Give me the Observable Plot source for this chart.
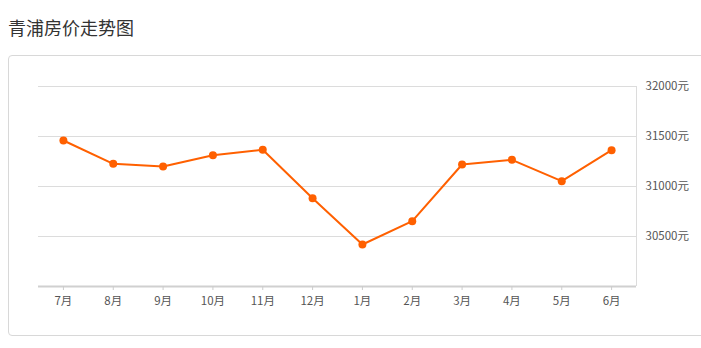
<!DOCTYPE html>
<html>
<head>
<meta charset="utf-8">
<script src="https://cdn.jsdelivr.net/npm/d3@7"></script>
<script src="https://cdn.jsdelivr.net/npm/@observablehq/plot@0.6"></script>
<style>
  html, body { margin: 0; padding: 0; background: #fff; width: 701px; height: 348px; overflow: hidden; position: relative; }
  #title { position: absolute; left: 8px; top: 14px; font: 18px "Noto Sans CJK SC", sans-serif; color: #333; line-height: 26px; }
  #card { position: absolute; left: 8px; top: 55px; width: 720px; height: 281px; border: 1px solid #d8d8d8; border-radius: 4px; box-sizing: border-box; }
  #chart { position: absolute; left: 0; top: 0; }
</style>
</head>
<body>
<div id="title">青浦房价走势图</div>
<div id="card"></div>
<div id="chart"></div>
<script>
const months = ["7月","8月","9月","10月","11月","12月","1月","2月","3月","4月","5月","6月"];
const prices = [31460, 31227, 31200, 31313, 31367, 30883, 30420, 30653, 31220, 31267, 31053, 31363];
const yTicks = [30500, 31000, 31500, 32000];

const data = months.map((m, i) => ({i, month: m, price: prices[i]}));
const color = "#ff6000";

const chart = Plot.plot({
  width: 701,
  height: 348,
  marginLeft: 38,
  marginRight: 65,
  marginTop: 86,
  marginBottom: 62,
  style: {fontFamily: "'Noto Sans CJK SC', sans-serif", fontSize: "11.5px", background: "transparent", color: "#555"},
  x: {type: "linear", domain: [-0.5, 11.5], ticks: d3.range(months.length), tickFormat: i => months[i], tickSize: 4, tickPadding: 6, label: null},
  y: {domain: [30000, 32000], ticks: yTicks, tickFormat: d => d + "元", label: null},
  marks: [
    Plot.gridY(yTicks, {stroke: "#dcdcdc", strokeOpacity: 1}),
    Plot.ruleX([11.5], {stroke: "#dcdcdc", strokeOpacity: 1}),
    Plot.ruleY([30000], {stroke: "#d0d0d0", strokeWidth: 2}),
    Plot.axisX({ticks: d3.range(months.length), tickFormat: i => months[i], tickSize: 4, tickPadding: 6, stroke: "#ccc", fill: "#555", label: null}),
    Plot.axisY({anchor: "right", ticks: yTicks, tickFormat: d => d + "元", tickSize: 0, tickPadding: 9, fill: "#555", label: null}),
    Plot.line(data, {x: "i", y: "price", stroke: color, strokeWidth: 2}),
    Plot.dot(data, {x: "i", y: "price", r: 4, fill: color, stroke: "none"})
  ]
});
document.getElementById("chart").appendChild(chart);
</script>
</body>
</html>
